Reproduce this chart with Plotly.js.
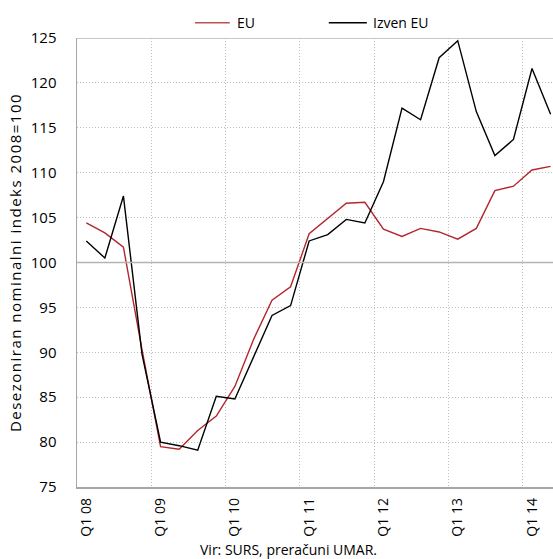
<!DOCTYPE html>
<html>
<head>
<meta charset="utf-8">
<script src="https://cdn.plot.ly/plotly-3.0.1.min.js"></script>
<style>
html,body{margin:0;padding:0;background:#fff;}
#chart{width:553px;height:559px;}
#chart .g-ytitle text{letter-spacing:1.5px;}
</style>
</head>
<body>
<div id="chart"></div>
<script>
const quarters = ["Q1 08","Q2 08","Q3 08","Q4 08","Q1 09","Q2 09","Q3 09","Q4 09","Q1 10","Q2 10","Q3 10","Q4 10","Q1 11","Q2 11","Q3 11","Q4 11","Q1 12","Q2 12","Q3 12","Q4 12","Q1 13","Q2 13","Q3 13","Q4 13","Q1 14","Q2 14"];
const euValues = [104.4,103.3,101.7,90.3,79.5,79.2,81.3,82.9,86.2,91.4,95.8,97.3,103.2,104.9,106.6,106.7,103.7,102.9,103.8,103.4,102.6,103.8,108.0,108.5,110.3,110.7];
const izvenValues = [102.4,100.5,107.4,89.8,80.0,79.6,79.1,85.1,84.8,89.5,94.1,95.2,102.4,103.1,104.8,104.4,109.0,117.2,115.9,122.8,124.7,116.8,111.9,113.7,121.6,116.5];
const tickLabels = ["Q1 08","Q1 09","Q1 10","Q1 11","Q1 12","Q1 13","Q1 14"];
const seriesNames = ["EU","Izven EU"];
const seriesColors = ["#b3262d","#000000"];

const idx = quarters.map((q,i)=>i);
const tickIdx = tickLabels.map(t=>quarters.indexOf(t));
const boundaries = tickIdx.map(i=>i-0.5);
const FONT = "'Open Sans', 'Noto Sans', sans-serif";
const GRID = "#bdbdbd";
const GRIDDASH = "1px,2px";

const traces = [
  {x: idx, y: euValues, name: seriesNames[0], type: "scatter", mode: "lines", line: {color: seriesColors[0], width: 1.4}},
  {x: idx, y: izvenValues, name: seriesNames[1], type: "scatter", mode: "lines", line: {color: seriesColors[1], width: 1.4}}
];

// manual legend (paper coordinates)
const legY = 1.034;
const legItems = [
  {x0: 0.248, x1: 0.321, tx: 0.331},
  {x0: 0.529, x1: 0.609, tx: 0.617}
];
const legendShapes = legItems.map((it,i)=>({type:"line", xref:"paper", yref:"paper", x0: it.x0, x1: it.x1, y0: legY, y1: legY, line:{color: i===0 ? "#c0504d" : "#000", width: 1.6}}));
const legendAnn = legItems.map((it,i)=>({text: seriesNames[i], xref:"paper", yref:"paper", x: it.tx, y: legY, xanchor:"left", yanchor:"middle", showarrow:false, font:{family: FONT, size: 14, color:"#000"}}));

const layout = {
  width: 553, height: 559,
  margin: {l: 77, r: 0, t: 38, b: 72},
  paper_bgcolor: "#fff", plot_bgcolor: "#fff",
  font: {family: FONT, size: 14, color: "#000"},
  showlegend: false,
  xaxis: {
    range: [-0.5, 25.13], tickmode: "array", tickvals: tickIdx, ticktext: tickLabels,
    tickangle: -90, showgrid: false, zeroline: false, ticks: "", ticklabelstandoff: 4,
    showline: true, linecolor: "#a6a6a6", linewidth: 1.5,
    tickfont: {family: FONT, size: 14, color: "#000"},
    minor: {tickmode: "array", tickvals: boundaries, showgrid: true, gridcolor: GRID, griddash: GRIDDASH, gridwidth: 1, ticks: ""},
    fixedrange: true
  },
  yaxis: {
    range: [75, 125], tickmode: "linear", tick0: 75, dtick: 5,
    showgrid: true, gridcolor: GRID, griddash: GRIDDASH, gridwidth: 1,
    zeroline: false, showline: true, linecolor: "#a6a6a6", linewidth: 1.5, ticks: "", ticklabelstandoff: 16,
    tickfont: {family: FONT, size: 15, color: "#000"},
    title: {text: "Desezoniran nominalni indeks 2008=100", font: {family: FONT, size: 15, color: "#000"}, standoff: 5},
    fixedrange: true
  },
  shapes: [
    {type: "line", xref: "paper", yref: "y", x0: 0, x1: 1, y0: 100, y1: 100, line: {color: "#b4b4b4", width: 1.5}},
    {type: "line", xref: "paper", yref: "y", x0: 0, x1: 1, y0: 125, y1: 125, line: {color: "#b4b4b4", width: 1.5}}
  ].concat(legendShapes),
  annotations: [
    {text: "Vir: SURS, preračuni UMAR.", xref: "paper", yref: "paper", x: 0.445, y: 0, yshift: -62, xanchor: "center", yanchor: "middle", showarrow: false, font: {family: FONT, size: 14, color: "#000"}}
  ].concat(legendAnn)
};

Plotly.newPlot("chart", traces, layout, {displayModeBar: false, staticPlot: true});
</script>
</body>
</html>
